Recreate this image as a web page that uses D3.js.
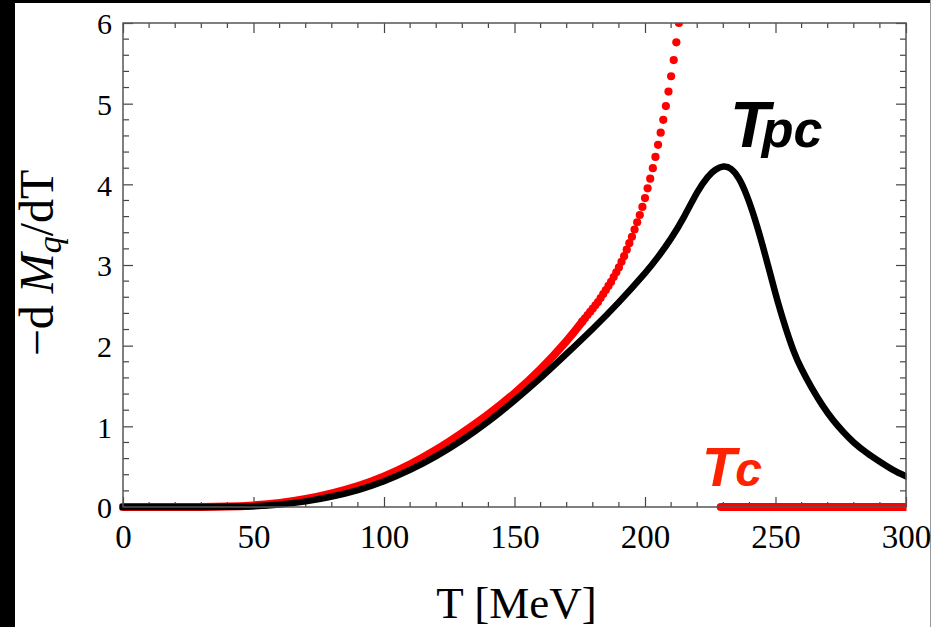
<!DOCTYPE html>
<html><head><meta charset="utf-8">
<script src="https://cdn.jsdelivr.net/npm/d3@7"></script>
<style>html,body{margin:0;padding:0;background:#fff;} svg{display:block;}</style>
</head><body>
<script>
// ---- data ----
const blackT = [0,10,20,30,40,50,60,70,80,90,100,110,120,130,140,150,160,170,180,190,200,205,210,215,220,224,227,230,233,236,239,242,245,248,251,254,257,260,264,268,272,276,280,285,290,295,300];
const blackM = [0,0,0,0,0.003,0.01,0.03,0.07,0.13,0.21,0.32,0.46,0.63,0.83,1.06,1.32,1.60,1.90,2.21,2.54,2.90,3.10,3.33,3.60,3.90,4.09,4.18,4.22,4.19,4.07,3.86,3.58,3.25,2.89,2.53,2.21,1.93,1.71,1.47,1.26,1.08,0.93,0.80,0.67,0.56,0.46,0.38];

const redLineT = [0,10,20,30,40,50,60,70,80,90,100,110,120,130,140,150,160,170,176];
const redLineM = [0,0,0,0,0.005,0.02,0.05,0.10,0.17,0.26,0.38,0.53,0.71,0.92,1.15,1.41,1.71,2.06,2.30];

const redDotT = [176,177,178,179,180,181,182,183,184,185,186,187,188,189,190,191,192,193,194,195,196,197,198,199,200,201,202,203,204,205,206,207,208,209,210,211,212,213];
const redDotM = [2.30,2.34,2.38,2.42,2.46,2.50,2.54,2.59,2.64,2.69,2.74,2.79,2.85,2.91,2.97,3.04,3.11,3.19,3.27,3.35,3.44,3.53,3.62,3.72,3.83,3.95,4.07,4.20,4.34,4.49,4.64,4.80,4.97,5.15,5.34,5.54,5.76,6.00];

const redTcT = [229,300];
const redTcM = [0,0];

const xTicks = [0,50,100,150,200,250,300];
const yTicks = [0,1,2,3,4,5,6];

// ---- layout ----
const W = 933, H = 627;
const L = 123, R = 906, T = 23, B = 507;

const svg = d3.select("body").append("svg").attr("width", W).attr("height", H);
svg.append("rect").attr("width", W).attr("height", H).attr("fill", "#fff");
svg.append("rect").attr("x",0).attr("y",0).attr("width",15).attr("height",H).attr("fill","#000");
svg.append("rect").attr("x",0).attr("y",0).attr("width",930).attr("height",3).attr("fill","#000");
svg.append("line").attr("x1",930.5).attr("x2",930.5).attr("y1",0).attr("y2",H).attr("stroke","#999").attr("stroke-width",1);

const x = d3.scaleLinear().domain([0,300]).range([L,R]);
const y = d3.scaleLinear().domain([0,6]).range([B,T]);

const tickColor = "#444";
const minorX = d3.range(0, 301, 10).filter(v => v % 50 !== 0);
const minorY = d3.range(0, 31, 1).map(v => v/5).filter(v => Math.abs(v - Math.round(v)) > 1e-6);

const gAx = svg.append("g");
gAx.selectAll(".mxb").data(minorX).join("line")
  .attr("x1", d=>x(d)).attr("x2", d=>x(d)).attr("y1", B).attr("y2", B-5);
gAx.selectAll(".mxt").data(minorX).join("line")
  .attr("x1", d=>x(d)).attr("x2", d=>x(d)).attr("y1", T).attr("y2", T+5);
gAx.selectAll(".myl").data(minorY).join("line")
  .attr("x1", L).attr("x2", L+6).attr("y1", d=>y(d)).attr("y2", d=>y(d));
gAx.selectAll(".myr").data(minorY).join("line")
  .attr("x1", R).attr("x2", R-6).attr("y1", d=>y(d)).attr("y2", d=>y(d));
gAx.selectAll("line").attr("stroke", tickColor).attr("stroke-width", 1.2);

const fontSerif = "'Liberation Serif','Times New Roman',serif";

const xAxis = svg.append("g").attr("transform", `translate(0,${B})`)
  .call(d3.axisBottom(x).tickValues(xTicks).tickSizeInner(-10).tickSizeOuter(0).tickPadding(17.6).tickFormat(d3.format("d")));
xAxis.select(".domain").remove();
xAxis.selectAll("line").attr("stroke", tickColor).attr("stroke-width", 1.2);
xAxis.selectAll("text").attr("font-family", fontSerif).attr("font-size", 33).attr("fill","#000");

const xAxisTop = svg.append("g").attr("transform", `translate(0,${T})`)
  .call(d3.axisTop(x).tickValues(xTicks).tickSizeInner(-10).tickSizeOuter(0).tickFormat(""));
xAxisTop.select(".domain").remove();
xAxisTop.selectAll("line").attr("stroke", tickColor).attr("stroke-width", 1.2);

const yAxis = svg.append("g").attr("transform", `translate(${L},0)`)
  .call(d3.axisLeft(y).tickValues(yTicks).tickSizeInner(-10).tickSizeOuter(0).tickPadding(11).tickFormat(d3.format("d")));
yAxis.select(".domain").remove();
yAxis.selectAll("line").attr("stroke", tickColor).attr("stroke-width", 1.2);
yAxis.selectAll("text").attr("font-family", fontSerif).attr("font-size", 30).attr("fill","#000").attr("dy","0.36em");

const yAxisR = svg.append("g").attr("transform", `translate(${R},0)`)
  .call(d3.axisRight(y).tickValues(yTicks).tickSizeInner(-10).tickSizeOuter(0).tickFormat(""));
yAxisR.select(".domain").remove();
yAxisR.selectAll("line").attr("stroke", tickColor).attr("stroke-width", 1.2);

svg.append("clipPath").attr("id","clip").append("rect")
  .attr("x", L-8).attr("y", T).attr("width", R-L+8.5).attr("height", B-T+12);

const plot = svg.append("g").attr("clip-path","url(#clip)");

// red low part (dense dots merge into a thick line)
plot.append("path")
  .datum(redLineT.map((t,i)=>[t, redLineM[i]]))
  .attr("d", d3.line().x(d=>x(d[0])).y(d=>y(d[1])).curve(d3.curveNatural))
  .attr("fill","none").attr("stroke","#ff0000").attr("stroke-width",8).attr("stroke-linecap","round");

// black curve
plot.append("path")
  .datum(blackT.map((t,i)=>[t, blackM[i]]))
  .attr("d", d3.line().x(d=>x(d[0])).y(d=>y(d[1])).curve(d3.curveNatural))
  .attr("fill","none").attr("stroke","#000").attr("stroke-width",6.5).attr("stroke-linecap","square");

// red dots
plot.selectAll(".rd").data(redDotT.map((t,i)=>[t, redDotM[i]])).join("circle")
  .attr("cx", d=>x(d[0])).attr("cy", d=>y(d[1])).attr("r", 4.1).attr("fill","#ff0000");

// red Tc line on zero
plot.append("path")
  .datum(redTcT.map((t,i)=>[t, redTcM[i]]))
  .attr("d", d3.line().x(d=>x(d[0])).y(d=>y(d[1])))
  .attr("fill","none").attr("stroke","#ff0000").attr("stroke-width",8).attr("stroke-linecap","round");

// frame
svg.append("rect").attr("x",L).attr("y",T).attr("width",R-L).attr("height",B-T)
  .attr("fill","none").attr("stroke","#555").attr("stroke-width",1.5);

// axis labels
svg.append("text").attr("x", (L+R)/2 + 2).attr("y", 618).attr("text-anchor","middle")
  .attr("font-family", fontSerif).attr("font-size", 45).attr("fill","#000").text("T [MeV]");

const yl = svg.append("text").attr("transform","translate(53,263) rotate(-90)").attr("text-anchor","middle")
  .attr("font-family", fontSerif).attr("font-size", 48).attr("fill","#000");
yl.append("tspan").text("\u2212d ");
yl.append("tspan").attr("font-style","italic").text("M");
yl.append("tspan").attr("font-style","italic").attr("font-size", 34).attr("dy", 8).text("q");
yl.append("tspan").attr("dy", -8).text("/dT");

// annotations
const fontSans = "'Liberation Sans',Arial,sans-serif";
const tpc = svg.append("text").attr("x", 730).attr("y", 147)
  .attr("font-family", fontSans).attr("font-weight","bold").attr("font-style","italic").attr("fill","#000");
tpc.append("tspan").attr("font-size", 65).text("T");
tpc.append("tspan").attr("font-size", 52).attr("dx", -8).text("pc");

const tc = svg.append("text").attr("x", 702).attr("y", 486)
  .attr("font-family", fontSans).attr("font-weight","bold").attr("font-style","italic").attr("fill","#ff2200");
tc.append("tspan").attr("font-size", 56).text("T");
tc.append("tspan").attr("font-size", 48).attr("dx", -1).text("c");
</script>
</body></html>
